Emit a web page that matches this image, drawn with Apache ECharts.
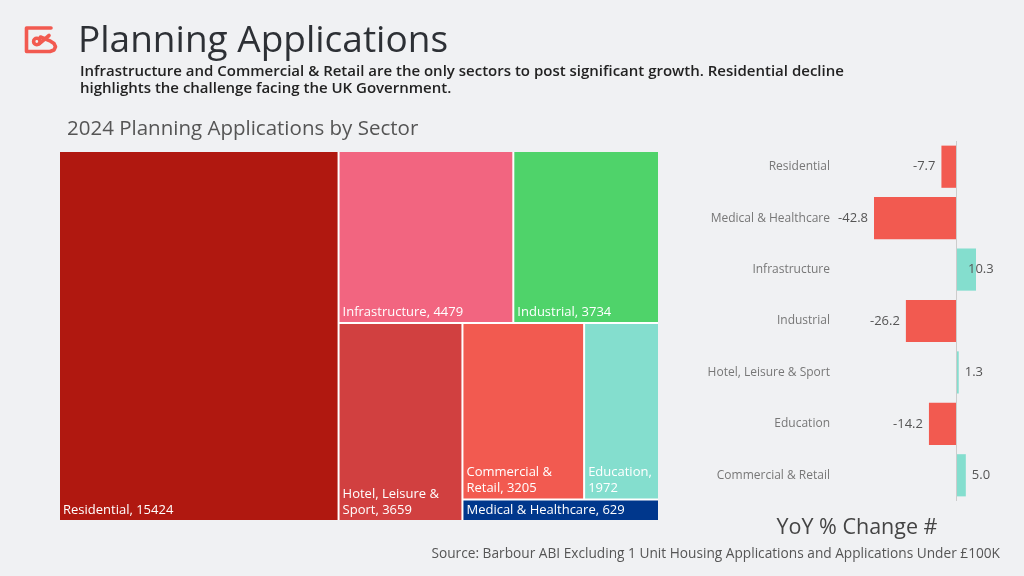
<html>
    <head>
        <meta charset="utf-8">
        <title>Planning Applications</title>
        <script src="https://cdn.jsdelivr.net/npm/echarts@6/dist/echarts.min.js"></script>
        <style>
            html, body { margin: 0; padding: 0; background: #f0f1f3; }
            #main { width: 1024px; height: 576px; }
        </style>
    </head>
    <body>
        <div id="main"></div>
        <script type="text/javascript">
            // treemap: 2024 planning applications by sector
            var sectors = ['Residential', 'Infrastructure', 'Industrial', 'Hotel, Leisure & Sport', 'Commercial & Retail', 'Education', 'Medical & Healthcare'];
            var applications = [15424, 4479, 3734, 3659, 3205, 1972, 629];
            var sectorColors = ['#b01810', '#f26580', '#4fd36a', '#d14040', '#f25a50', '#84dece', '#00378c'];

            // bars: YoY % change
            var yoyCategories = ['Residential', 'Medical & Healthcare', 'Infrastructure', 'Industrial', 'Hotel, Leisure & Sport', 'Education', 'Commercial & Retail'];
            var yoyChange = [-7.7, -42.8, 10.3, -26.2, 1.3, -14.2, 5.0];

            var font = 'Open Sans';

            var treeData = [];
            for (var i = 0; i < sectors.length; i++) {
                treeData.push({
                    name: sectors[i],
                    value: applications[i],
                    itemStyle: { color: sectorColors[i] }
                });
            }

            var barData = [];
            for (var j = 0; j < yoyChange.length; j++) {
                var v = yoyChange[j];
                var lbl = { position: v < 0 ? 'left' : 'right' };
                if (yoyCategories[j] == 'Infrastructure') {
                    lbl.offset = [-14, 0];   // pulled back over the bar like the original
                }
                barData.push({
                    value: v,
                    itemStyle: { color: v < 0 ? '#f25a50' : '#84dece' },
                    label: lbl
                });
            }

            var myChart = echarts.init(document.getElementById('main'));

            var logoStroke = { fill: null, stroke: '#f25a50', lineWidth: 3.6, lineJoin: 'round', lineCap: 'round' };

            var option = {
                backgroundColor: '#f0f1f3',
                textStyle: { fontFamily: font },
                graphic: [
                    {
                        type: 'polyline',
                        shape: { points: [[51, 28], [26.5, 28], [26.5, 51.5], [50, 51.5], [54, 50], [55.5, 46.8], [54, 43.5], [50.5, 41.2], [40.5, 37]] },
                        style: logoStroke
                    },
                    {
                        type: 'circle',
                        shape: { cx: 36.8, cy: 41.5, r: 3.2 },
                        style: logoStroke
                    },
                    {
                        type: 'line',
                        shape: { x1: 39.4, y1: 43.6, x2: 49, y2: 35.5 },
                        style: logoStroke
                    },
                    {
                        type: 'text', left: 78, top: 23,
                        style: { text: 'Planning Applications', fontFamily: font, fontSize: 37, fill: '#2d3035' }
                    },
                    {
                        type: 'text', left: 80, top: 63,
                        style: {
                            text: 'Infrastructure and Commercial & Retail are the only sectors to post significant growth. Residential decline\nhighlights the challenge facing the UK Government.',
                            fontFamily: font, fontSize: 15, fontWeight: 600, lineHeight: 17, fill: '#222'
                        }
                    },
                    {
                        type: 'text', left: 67, top: 119,
                        style: { text: '2024 Planning Applications by Sector', fontFamily: font, fontSize: 20.5, fill: '#555' }
                    },
                    {
                        type: 'text', x: 857, y: 528,
                        style: { text: 'YoY % Change #', fontFamily: font, fontSize: 21.5, fill: '#444', align: 'center', verticalAlign: 'middle' }
                    },
                    {
                        type: 'text', x: 1000, y: 554,
                        style: { text: 'Source: Barbour ABI Excluding 1 Unit Housing Applications and Applications Under £100K', fontFamily: font, fontSize: 13.7, fill: '#555', align: 'right', verticalAlign: 'middle' }
                    }
                ],
                grid: {
                    left: 874,
                    right: 48,
                    top: 141,
                    bottom: 75
                },
                xAxis: {
                    type: 'value',
                    min: 'dataMin',
                    max: 'dataMax',
                    show: false
                },
                yAxis: {
                    type: 'category',
                    inverse: true,
                    data: yoyCategories,
                    axisLine: { show: false, onZero: false },
                    axisTick: { show: false },
                    axisLabel: { margin: 44, color: '#777', fontSize: 12, fontFamily: font }
                },
                series: [
                    {
                        type: 'treemap',
                        left: 60,
                        top: 152,
                        width: 598,
                        height: 368,
                        squareRatio: 1.2,
                        roam: false,
                        nodeClick: false,
                        breadcrumb: { show: false },
                        levels: [
                            { itemStyle: { borderColor: '#fff', borderWidth: 0, gapWidth: 2 } }
                        ],
                        label: {
                            show: true,
                            position: 'insideBottomLeft',
                            formatter: '{b}, {c}',
                            color: '#fff',
                            fontSize: 13,
                            lineHeight: 16,
                            fontFamily: font,
                            overflow: 'break',
                            padding: [0, 0, 2, 3]
                        },
                        data: treeData
                    },
                    {
                        name: 'YoY % Change',
                        type: 'bar',
                        barCategoryGap: '18%',
                        label: {
                            show: true,
                            distance: 6,
                            color: '#555',
                            fontSize: 13,
                            fontFamily: font,
                            formatter: function (p) { return p.value.toFixed(1); }
                        },
                        markLine: {
                            silent: true,
                            symbol: 'none',
                            label: { show: false },
                            lineStyle: { color: '#ccc', type: 'solid', width: 1 },
                            data: [{ xAxis: 0 }]
                        },
                        data: barData
                    }
                ]
            };
            if (option && typeof option === "object") {
                myChart.setOption(option, true);
            }
        </script>
    </body>
</html>
